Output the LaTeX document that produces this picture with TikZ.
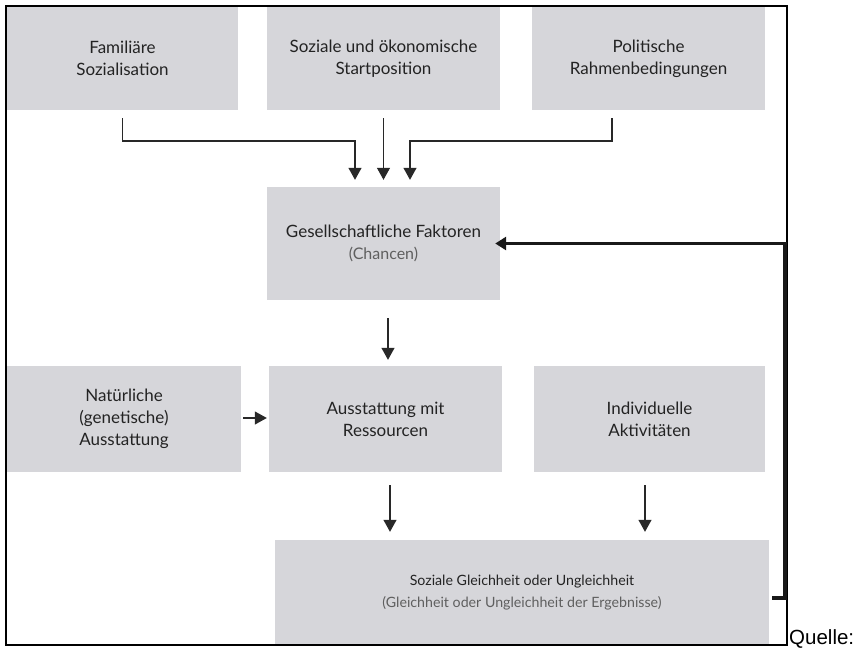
\documentclass[tikz,border=0pt]{standalone}
\usepackage{fontspec}
\setmainfont{Lato}
\newfontfamily\quellefont{Liberation Sans}
\usetikzlibrary{arrows.meta}
\definecolor{boxgray}{RGB}{214,214,218}
\definecolor{txt}{RGB}{35,35,35}
\definecolor{subtxt}{RGB}{95,95,95}
\definecolor{linec}{RGB}{40,40,40}
\tikzset{
  box/.style={fill=boxgray, draw=none, inner sep=0pt, align=center, text=txt,
    font=\fontsize{17}{22}\selectfont},
  smallbox/.style={box, font=\fontsize{14.2}{22}\selectfont},
  conn/.style={draw=linec, line width=1.1pt, -{Triangle[width=13pt,length=12pt]}},
  fbline/.style={draw=black!90, line width=3.2pt, -{Triangle[width=13pt,length=11pt]}},
}
\begin{document}
\begin{tikzpicture}[x=1pt,y=-1pt]
\useasboundingbox (0,0) rectangle (865,649);
% boxes
\node[box, minimum width=231pt, minimum height=103pt] (f1) at (122.5,58.5) {Familiäre\\Sozialisation};
\node[box, minimum width=233pt, minimum height=103pt] (f2) at (383.5,58.5) {Soziale und ökonomische\\Startposition};
\node[box, minimum width=233pt, minimum height=103pt] (f3) at (648.5,58.5) {Politische\\Rahmenbedingungen};
\node[box, minimum width=233pt, minimum height=113pt] (ges) at (383.5,243.5) {Gesellschaftliche Faktoren\\\textcolor{subtxt}{\fontsize{16}{22}\selectfont(Chancen)}};
\node[box, minimum width=234pt, minimum height=106pt] (nat) at (124,419) {Natürliche\\(genetische)\\Ausstattung};
\node[box, minimum width=233pt, minimum height=106pt] (aus) at (385.5,419) {Ausstattung mit\\Ressourcen};
\node[box, minimum width=231pt, minimum height=106pt] (ind) at (649.5,419) {Individuelle\\Aktivitäten};
\node[smallbox, minimum width=494pt, minimum height=105pt] (bot) at (522,592.5) {Soziale Gleichheit oder Ungleichheit\\\textcolor{subtxt}{(Gleichheit oder Ungleichheit der Ergebnisse)}};
% frame
\draw[line width=2pt, black] (6,6) rectangle (787,645);
% connectors from top row
\coordinate (j1) at (355,141);
\coordinate (r0) at (612,110);
\coordinate (j3) at (410,141);
\draw[conn, shorten <=8pt, shorten >=7pt] (f1.south) |- (j1) -- (j1 |- ges.north);
\draw[conn, shorten <=8pt, shorten >=7pt] (f2.south) -- (ges.north);
\draw[conn, shorten <=8pt, shorten >=7pt] (r0) |- (j3) -- (j3 |- ges.north);
% middle
\coordinate (g1) at (388,318);
\draw[conn, shorten >=6pt] (g1) -- (g1 |- aus.north);
\draw[conn, shorten <=2pt, shorten >=2pt] (nat.east |- 0,418) -- (aus.west |- 0,418);
% to bottom
\coordinate (a1) at (390,485);
\coordinate (i1) at (645,485);
\draw[conn, shorten >=8pt] (a1) -- (a1 |- bot.north);
\draw[conn, shorten >=8pt] (i1) -- (i1 |- bot.north);
% feedback
\coordinate (s0) at (772,598);
\coordinate (fb) at (785,598);
\draw[fbline, shorten >=-5pt] (s0) -- (fb) |- (ges.east);
% source
\node[anchor=base west, inner sep=0pt, font=\quellefont\fontsize{20.5}{24}\selectfont] (q) at (789,644) {Quelle:};
\end{tikzpicture}
\end{document}
